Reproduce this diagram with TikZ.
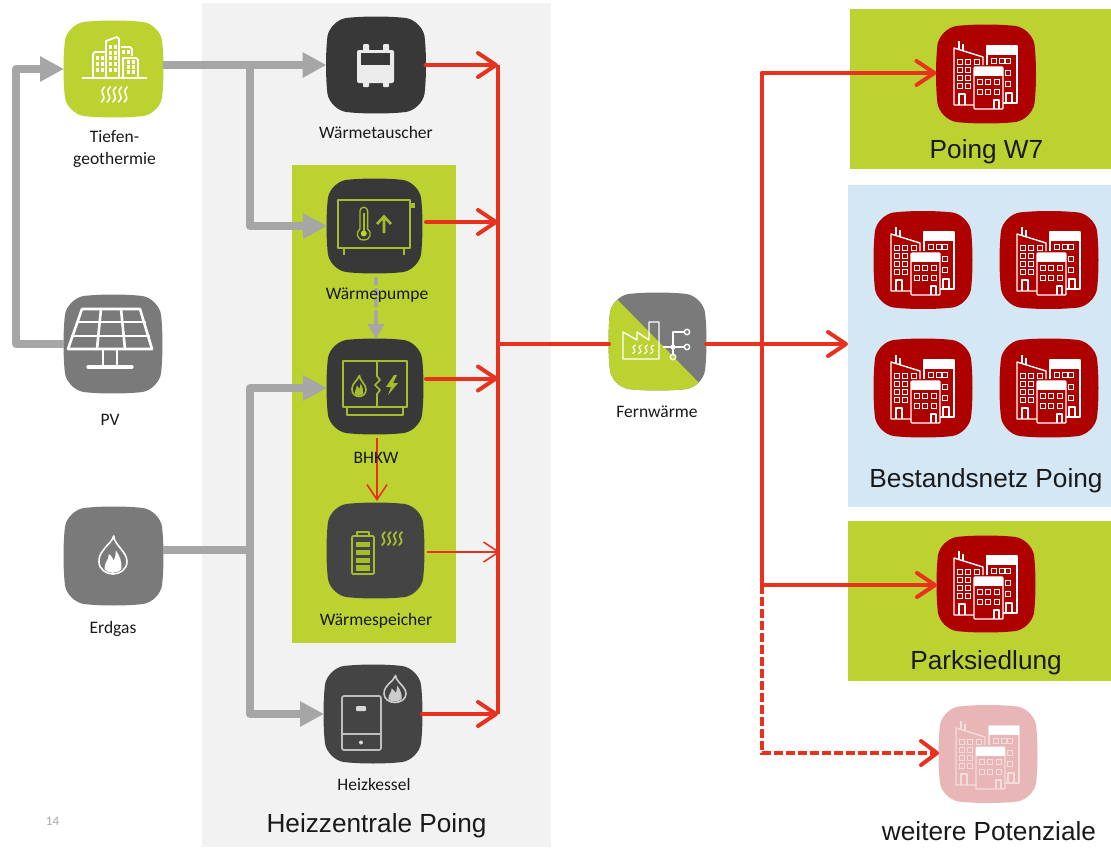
\documentclass[tikz,border=0pt]{standalone}
\usepackage{fontspec}
\setmainfont{Carlito}
\newfontfamily\bigfont{Liberation Sans}
\usetikzlibrary{arrows.meta,calc}
\definecolor{pgrey}{HTML}{F2F2F2}
\definecolor{lime}{HTML}{BBD230}
\definecolor{olive}{HTML}{A6BC2C}
\definecolor{skyb}{HTML}{D3E8F4}
\definecolor{dark}{HTML}{383838}
\definecolor{dark2}{HTML}{444444}
\definecolor{midg}{HTML}{7A7A7A}
\definecolor{flow}{HTML}{A6A6A6}
\definecolor{hot}{HTML}{E8321E}
\definecolor{wine}{HTML}{AF0000}
\definecolor{pale}{HTML}{E8B6B6}
\definecolor{paleline}{HTML}{F4DCDC}
\def\sqpath{(-0.60,-0.98) .. controls (-0.25,-1.02) and (0.25,-1.02) .. (0.60,-0.98) .. controls (0.78,-0.95) and (0.95,-0.78) .. (0.98,-0.60) .. controls (1.02,-0.25) and (1.02,0.25) .. (0.98,0.60) .. controls (0.95,0.78) and (0.78,0.95) .. (0.60,0.98) .. controls (0.25,1.02) and (-0.25,1.02) .. (-0.60,0.98) .. controls (-0.78,0.95) and (-0.95,0.78) .. (-0.98,0.60) .. controls (-1.02,0.25) and (-1.02,-0.25) .. (-0.98,-0.60) .. controls (-0.95,-0.78) and (-0.78,-0.95) .. (-0.60,-0.98) -- cycle}
% name, centre, half width, half height, colour
\newcommand{\iconbox}[5]{%
  \node[iconspot,minimum width=#3*2pt,minimum height=#4*2pt] (#1) at (#2) {};
  \begin{scope}[shift={(#2)},x=#3pt,y=-#4pt]\fill[#5] \sqpath;\end{scope}}
% flame: centre, half width, half height, colour
\newcommand{\flameicon}[4]{%
  \begin{scope}[shift={(#1)},x=#2pt,y=-#3pt]
    \draw[#4,line width=1.6pt,line join=round] (0.05,-1) .. controls (0.1,-0.5) and (1,-0.2) .. (1,0.35) .. controls (1,0.75) and (0.5,1) .. (0,1) .. controls (-0.5,1) and (-1,0.75) .. (-1,0.35) .. controls (-1,-0.1) and (-0.7,-0.2) .. (-0.55,-0.4) .. controls (-0.3,-0.6) and (-0.05,-0.75) .. cycle;
    \fill[#4] (-0.6,0.75) .. controls (-0.6,0.3) and (-0.3,0.3) .. (-0.3,-0.05) .. controls (-0.05,0.05) and (0,0.25) .. (0.05,0.3) .. controls (0.15,0.15) and (0.2,0) .. (0.2,-0.25) .. controls (0.5,0.05) and (0.65,0.4) .. (0.6,0.75) .. controls (0.2,1) and (-0.3,1) .. (-0.6,0.75) -- cycle;
  \end{scope}}
% heat waves: x start, y top, y bottom, step, count, colour, width
\newcommand{\heatwaves}[7]{%
  \foreach \k in {1,...,#5}{
    \pgfmathsetmacro{\xx}{#1+(\k-1)*#4}
    \pgfmathsetmacro{\hh}{(#3-#2)/4}
    \draw[#6,line width=#7,line cap=round] (\xx+1.5,#2) .. controls (\xx-1.5,#2+\hh) and (\xx-1.5,#2+\hh) .. (\xx,#2+2*\hh) .. controls (\xx+1.5,#2+3*\hh) and (\xx+1.5,#2+3*\hh) .. (\xx-1.5,#3);
  }}
% building icon: centre, background colour, line colour
\newcommand{\buildingicon}[3]{%
  \begin{scope}[shift={(#1)},bl/.style={#3,line width=1.4pt,line join=round}]
    \draw[bl] (-27,-33) -- (-27,-24) (-23,-30) -- (-23,-23);
    \draw[bl] (-12,31) -- (-32,31) -- (-32,-26) -- (-3,-17) -- (-3,-9);
    \draw[bl] (-27,31) -- (-27,20) -- (-21,20) -- (-21,31);
    \foreach \a/\b in {-26/-12,-18/-12,-9/-12,-26/-4,-18/-4,-26/4,-18/4,-26/12,-18/12}
      \draw[#3,line width=1.2pt] (\a-2.3,\b-2.3) rectangle (\a+2.3,\b+2.3);
    \draw[bl] (17,29) -- (31,29) -- (31,-28) -- (1,-28) -- (1,-9);
    \fill[white] (1,-28) rectangle (31,-19);
    \foreach \a/\b in {8/-13,16/-13,22/-13,22/-1,22/10}
      \draw[#3,line width=1.2pt] (\a-2.3,\b-2.8) rectangle (\a+2.3,\b+2.8);
    \draw[bl] (20,29) -- (20,19) -- (26,19) -- (26,29);
    \draw[bl,fill=#2,rounded corners=1pt] (-12,-7) rectangle (17,35);
    \fill[white] (-12,-7) rectangle (17,2);
    \foreach \a/\b in {-6/8,2/8,11/8,-6/18,2/18,11/18}
      \draw[#3,line width=1.2pt] (\a-2.3,\b-2.8) rectangle (\a+2.3,\b+2.8);
    \draw[bl] (8,35) -- (8,26) -- (13,26) -- (13,35);
  \end{scope}}
\tikzset{
  iconspot/.style={inner sep=0pt,outer sep=0pt,rectangle},
  smalllabel/.style={font=\fontsize{17.5}{22}\selectfont,text=black!90,align=center,inner sep=0pt},
  biglabel/.style={font=\bigfont\fontsize{26.2}{30}\selectfont,text=black!90,inner sep=0pt},
  feed/.style={flow,line width=7.5pt,line join=round},
  feedtip/.style={feed,-{Triangle[length=24pt,width=24pt]}},
  heat/.style={hot,line width=4pt,line cap=round},
  heattip/.style={heat,-{Straight Barb[length=18pt,width=24pt,round]}},
  thinheat/.style={hot,line width=1.6pt,-{Straight Barb[length=15pt,width=20pt]}},
  greenline/.style={olive,line width=1.7pt,line join=round},
}
\begin{document}
\begin{tikzpicture}[x=1pt,y=-1pt]
\useasboundingbox (0,0) rectangle (1111,847);
\fill[white] (0,0) rectangle (1111,847);
% panels
\fill[pgrey] (202,3) rectangle (551,847);
\fill[lime] (292,165) rectangle (456,643);
\fill[lime] (850,9) rectangle (1111,169);
\fill[skyb] (848,185) rectangle (1111,507);
\fill[lime] (848,521) rectangle (1111,681);
% icon boxes
\iconbox{tief}{113.5,69}{49.5}{48}{lime}
\iconbox{pv}{113,344}{49}{49}{midg}
\iconbox{gas}{113.5,556}{49.5}{49}{midg}
\iconbox{wt}{376,65}{49.5}{48}{dark}
\iconbox{wp}{374.5,226}{47.5}{47}{dark}
\iconbox{bhkw}{375,386.5}{48}{47.5}{dark}
\iconbox{sp}{375.5,550.5}{48.5}{47.5}{dark2}
\iconbox{hk}{373,714}{49}{49}{dark2}
\iconbox{w7}{986,74}{49.5}{49}{wine}
\iconbox{b1}{923,260}{49}{48.5}{wine}
\iconbox{b2}{1049,260}{49}{48.5}{wine}
\iconbox{b3}{923,388}{49}{49}{wine}
\iconbox{b4}{1049,388}{49}{49}{wine}
\iconbox{ps}{986,584}{49}{48}{wine}
\iconbox{wpo}{988,754}{49}{48.5}{pale}
% Fernwaerme box: split colours
\node[iconspot,minimum width=97pt,minimum height=97pt] (fw) at (657.5,341.5) {};
\begin{scope}
  \begin{scope}[shift={(657.5,341.5)},x=48.5pt,y=-48.5pt]\clip \sqpath;
    \fill[midg] (-1.2,-1.2) rectangle (1.2,1.2);
    \fill[lime] (-0.98,-1.02) -- (1,1) -- (1,1.2) -- (-1.2,1.2) -- (-1.2,-1.02) -- cycle;
  \end{scope}
\end{scope}
% icons: Tiefengeothermie
\begin{scope}[every path/.style={white,line width=1.8pt,line join=round}]
  \draw (82,78) -- (147,78);
  \draw (93,78) -- (93,54) -- (95,52) -- (105,52);
  \draw (106,78) -- (106,41) -- (117,37) -- (119,39) -- (119,78);
  \draw (121,47) -- (130,47) -- (132,49) -- (132,56);
  \draw (123,78) -- (123,58) -- (136,58) -- (138,60) -- (138,78);
\end{scope}
\foreach \a/\b in {97/58,102/58,97/64,102/64,97/70,102/70,110/47,115/47,110/53,115/53,110/58,115/58,110/64,115/64,110/70,115/70,123/52,128/52,128/62,133/62,128/67,133/67,128/72,133/72}
  \fill[white] (\a-1.5,\b-1.7) rectangle (\a+1.5,\b+1.7);
\heatwaves{103}{87}{102}{5.7}{5}{white}{1.6pt}
% PV
\begin{scope}[every path/.style={white,line width=2.6pt,line join=round,line cap=round}]
  \draw (82,309) -- (140,309) -- (152,349) -- (68,349) -- cycle;
  \draw (77,322) -- (145,322) (72,336) -- (149,336);
  \draw (101,309) -- (97,349) (121,309) -- (125,349);
  \draw (103,349) -- (103,367) (117,349) -- (117,367);
  \draw[line width=3.2pt] (88,367) -- (132,367);
\end{scope}
% flame Erdgas
\flameicon{113,555}{14}{19}{white}
% Waermetauscher
\fill[white!92!black,rounded corners=2pt] (357,50) rectangle (394,83);
\fill[white!92!black,rounded corners=1pt] (363,44) rectangle (369,52) (383,44) rectangle (389,52) (363,81) rectangle (369,87) (383,81) rectangle (389,87);
\fill[dark] (361,53) rectangle (390,65);
% Waermepumpe
\draw[greenline] (338,200) rectangle (410,248);
\fill[olive] (410,203) rectangle (415,208);
\draw[greenline,line width=2.4pt] (344,248) -- (344,255) (404,248) -- (404,255);
\draw[greenline,line width=1.3pt] (360,229) -- (360,211) arc[start angle=180,end angle=0,radius=3.8pt] -- (367.6,229) .. controls (372,232) and (371,240) .. (363.8,240) .. controls (356.5,240) and (355.5,232) .. (360,229);
\draw[olive,line width=1.8pt] (363.8,232) -- (363.8,213);
\fill[lime] (363.8,233.5) circle[radius=3pt];
\draw[olive,line width=2.6pt] (384,233) -- (384,217) (377,224) -- (384,216.5) -- (391,224);
% BHKW
\draw[greenline] (343,361) rectangle (407,407);
\draw[greenline] (347,407) -- (347,415) -- (403,415) -- (403,407);
\draw[greenline] (377,361) -- (377,376) -- (380,380) -- (375,385) -- (380,390) -- (377,394) -- (377,407);
\flameicon{359,386}{7}{10.5}{olive}
\fill[olive] (394,375) -- (386,387) -- (391,387) -- (388,395) -- (398,383) -- (393,383) -- (397,375) -- cycle;
% Waermespeicher
\draw[greenline,rounded corners=1pt] (352,536) rectangle (374,574);
\draw[greenline] (357,536) -- (357,532) -- (369,532) -- (369,536);
\foreach \y in {541.5,549.5,557.5,565}
  \fill[olive] (356,\y) rectangle (370,\y+5.5);
\heatwaves{383.5}{532}{545}{5.7}{4}{olive}{1.8pt}
% Heizkessel
\draw[white!75!black,line width=1.7pt,rounded corners=2pt] (342,696) rectangle (381,750);
\draw[white!75!black,line width=1.5pt] (342,734) -- (381,734);
\fill[white!85!black,rounded corners=1pt] (356,706) rectangle (366,711);
\fill[white!85!black] (361,742.5) circle[radius=2pt];
\flameicon{395,689}{11}{13.5}{white!80!black}
% Fernwaerme icon
\begin{scope}[every path/.style={white,line width=1.4pt,line join=round}]
  \draw (623,359) -- (623,332) -- (637,340) -- (637,332) -- (649,340) -- (649,322) -- (659,322) -- (659,359) -- cycle;
  \draw (663,347) -- (687,347) (673,347) -- (673,332) -- (687,332) (673,347) -- (673,357);
  \fill (673,347) circle[radius=2.6pt];
  \draw[fill=midg] (687,332) circle[radius=2.7pt];
  \draw[fill=midg] (687,347) circle[radius=2.7pt];
  \draw[fill=lime] (673,357) circle[radius=2.7pt];
\end{scope}
\heatwaves{634}{345}{353.5}{6}{4}{white}{1.2pt}
% buildings
\buildingicon{986,74}{wine}{white}
\buildingicon{923,260}{wine}{white}
\buildingicon{1049,260}{wine}{white}
\buildingicon{923,388}{wine}{white}
\buildingicon{1049,388}{wine}{white}
\buildingicon{986,584}{wine}{white}
\buildingicon{988,754}{pale}{paleline}
% grey connectors
\coordinate (jt) at (250,65);
\coordinate (jg) at (250,550);
\coordinate (pvl) at (16,344);
\coordinate (pvt) at (16,69);
\draw[feedtip] (tief.east |- wt.west) -- (wt.west);
\draw[feedtip] (jt) |- (wp.west);
\draw[feedtip] (pv.west) -- (pvl) -- (pvt) -- (tief.west);
\draw[feed] (gas.east |- jg) -- (jg);
\draw[feedtip] (jg) |- ($(bhkw.west)+(0,1.5)$);
\draw[feedtip] (jg) |- (hk.west);
\draw[flow,line width=4pt,dash pattern=on 8pt off 3pt] ($(wp.south)+(1.5,4)$) -- ($(bhkw.north)+(1,-12)$);
\draw[flow,line width=4pt,-{Triangle[length=15pt,width=16pt]}] ($(bhkw.north)+(1,-24)$) -- ($(bhkw.north)+(1,0)$);
% red connectors
\coordinate (bt) at (498,65);
\coordinate (bb) at (498,714);
\coordinate (bf) at (498,344);
\coordinate (j2) at (762,344);
\coordinate (j3) at (762,585);
\coordinate (j4) at (762,73);
\coordinate (jd) at (762,753);
\coordinate (bw) at (848,344);
\draw[hot,line width=4pt] (bt) -- (bb);
\draw[heattip] (wt.east) -- (bt);
\draw[heattip] ($(wp.east)+(4,-4)$) -- (bt |- 0,222);
\draw[heattip] ($(bhkw.east)+(3,-8)$) -- (bt |- 0,378.5);
\draw[heattip] (hk.east) -- (bb);
\draw[thinheat] ($(sp.east)+(3,1.5)$) -- (500,552);
\draw[thinheat] (377,438) -- ($(sp.north)+(1.5,-2)$);
\draw[heat] (bf) -- (fw.west |- bf);
\draw[heattip] (fw.east |- bw) -- (bw);
\draw[heat] (j4) -- (j3);
\draw[heattip] (j4) -- (w7.west |- j4);
\draw[heattip] (j3) -- (ps.west |- j3);
\draw[hot,line width=4pt,dash pattern=on 9pt off 3pt,-{Straight Barb[length=16pt,width=24pt,round]}] (j3) -- (jd) -- (wpo.west |- jd);
% labels
\node[smalllabel] (ltief) at (114.5,149) {Tiefen-\\[0pt]geothermie};
\node[smalllabel] (lwt) at (376,132.5) {Wärmetauscher};
\node[smalllabel] (lwp) at (377,295) {Wärmepumpe};
\node[smalllabel] (lbh) at (376,458) {BHKW};
\node[smalllabel] (lsp) at (376,621) {Wärmespeicher};
\node[smalllabel] (lhk) at (374,784.5) {Heizkessel};
\node[smalllabel] (lpv) at (110,420) {PV};
\node[smalllabel] (lgas) at (113,629) {Erdgas};
\node[smalllabel] (lfw) at (657,412) {Fernwärme};
\node[biglabel] (lhz) at (376.5,826) {Heizzentrale Poing};
\node[biglabel] (lw7) at (986.5,152) {Poing W7};
\node[biglabel] (lbe) at (986,481) {Bestandsnetz Poing};
\node[biglabel] (lps) at (986,663) {Parksiedlung};
\node[biglabel] (lwe) at (989,831) {weitere Potenziale};
\node[font=\fontsize{13}{15}\selectfont,text=black!35,inner sep=0pt] (pg) at (52.5,821) {14};
\end{tikzpicture}
\end{document}
